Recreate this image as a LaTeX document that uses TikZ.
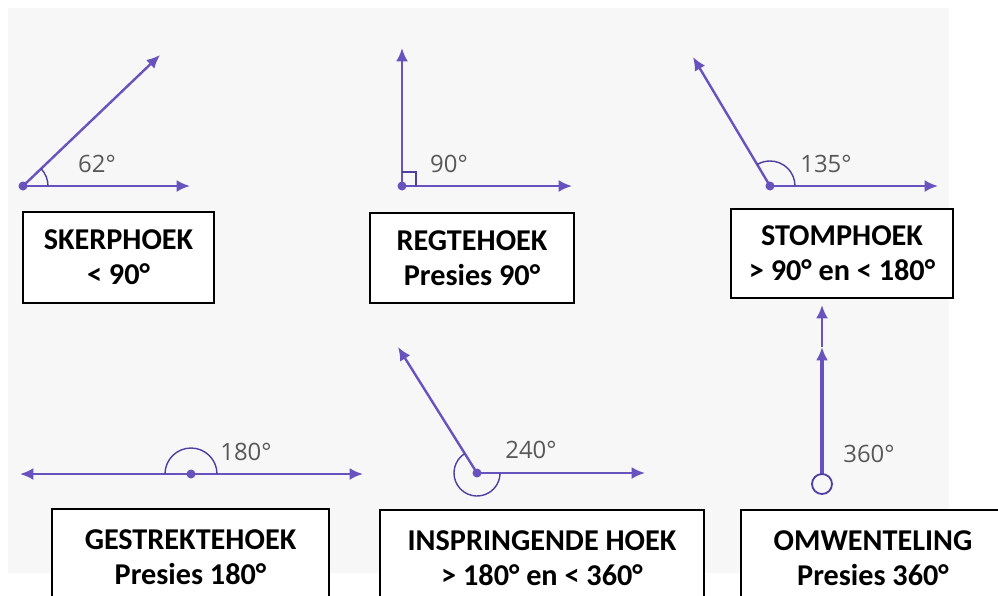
\documentclass[tikz,border=0pt]{standalone}
\usepackage{fontspec}
\setmainfont{Carlito}
\newfontfamily\lblfont{Open Sans}
\usetikzlibrary{arrows.meta,angles,quotes,positioning}
\definecolor{hoekpaars}{RGB}{104,82,190}
\definecolor{boogpaars}{RGB}{80,62,160}
\definecolor{paneel}{RGB}{247,247,247}
\definecolor{lblgrys}{RGB}{88,88,88}

\tikzset{
  straal/.style={hoekpaars, line width=1.7pt, -{Latex[length=9.5pt,width=8.5pt]}},
  boog/.style={draw, boogpaars, line width=1pt},
  hoekkas/.style={draw=black, line width=1pt, fill=white, align=center,
    font=\fontsize{21.5}{25}\selectfont\bfseries, inner sep=0pt},
  graad/.style={font=\lblfont\fontsize{17}{17}\selectfont, text=lblgrys, inner sep=0pt},
}

\begin{document}
\begin{tikzpicture}[x=0.025cm,y=0.025cm]
\useasboundingbox (0,0) rectangle (998,-595);
\clip (0,0) rectangle (998,-595);
\fill[paneel] (8,-8) rectangle (949,-573);

% skerphoek
\coordinate (V1) at (23,-186);
\coordinate (E1) at (190,-186);
\coordinate (A1) at (160,-55);
\draw[straal] (V1) -- (E1);
\draw[straal] (V1) -- (A1);
\pic [boog, angle radius=0.625cm] {angle = E1--V1--A1};
\fill[hoekpaars] (V1) circle (4.5);
\node[graad] (g1) at (97,-164) {62°};
\node[hoekkas, minimum width=4.775cm, minimum height=2.275cm] (k1) at (118.5,-257.5) {SKERPHOEK\\< 90°};

% regtehoek
\coordinate (V2) at (402,-186);
\coordinate (E2) at (572,-186);
\coordinate (A2) at (402,-48);
\draw[straal] (V2) -- (E2);
\draw[straal] (V2) -- (A2);
\draw[boog] (V2) ++(14,0) -- ++(0,14) -- ++(-14,0);
\fill[hoekpaars] (V2) circle (4.5);
\node[graad] (g2) at (449,-164) {90°};
\node[hoekkas, minimum width=5.1cm, minimum height=2.25cm] (k2) at (472,-258) {REGTEHOEK\\Presies 90°};

% stomphoek
\coordinate (V3) at (770,-186);
\coordinate (E3) at (938,-186);
\coordinate (A3) at (693,-57);
\draw[straal] (V3) -- (E3);
\draw[straal] (V3) -- (A3);
\pic [boog, angle radius=0.625cm] {angle = E3--V3--A3};
\fill[hoekpaars] (V3) circle (4.5);
\node[graad] (g3) at (826,-164) {135°};
\node[hoekkas, minimum width=5.55cm, minimum height=2.225cm] (k3) at (842,-253.5) {STOMPHOEK\\> 90° en < 180°};

% gestrektehoek
\coordinate (V4) at (191,-474);
\coordinate (E4) at (363,-474);
\coordinate (W4) at (20,-474);
\draw[straal] (V4) -- (E4);
\draw[straal] (V4) -- (W4);
\pic [boog, angle radius=0.65cm] {angle = E4--V4--W4};
\fill[hoekpaars] (V4) circle (4.5);
\node[graad] (g4) at (246,-452) {180°};
\node[hoekkas, minimum width=6.925cm, minimum height=2.425cm] (k4) at (190.5,-557.5) {GESTREKTEHOEK\\Presies 180°};

% inspringende hoek
\coordinate (V5) at (477,-473);
\coordinate (E5) at (645,-473);
\coordinate (A5) at (398,-347);
\draw[straal] (V5) -- (E5);
\draw[straal] (V5) -- (A5);
\pic [boog, angle radius=0.575cm] {angle = A5--V5--E5};
\fill[hoekpaars] (V5) circle (4.5);
\node[graad] (g5) at (531,-450) {240°};
\node[hoekkas, minimum width=8.1cm, minimum height=2.425cm] (k5) at (542,-558.5) {INSPRINGENDE HOEK\\> 180° en < 360°};

% omwenteling
\coordinate (V6) at (822,-475);
\coordinate (M6) at (822,-347);
\coordinate (A6) at (822,-305);
\coordinate (S6) at (822,-484);
\draw[straal, line width=3pt] (V6) -- (M6);
\draw[straal] (M6) -- (A6);
\draw[boog, line width=1.3pt] (S6) circle (10);
\node[graad] (g6) at (869,-454) {360°};
\node[hoekkas, minimum width=6.6cm, minimum height=2.425cm] (k6) at (873,-558.5) {OMWENTELING\\Presies 360°};
\end{tikzpicture}
\end{document}
